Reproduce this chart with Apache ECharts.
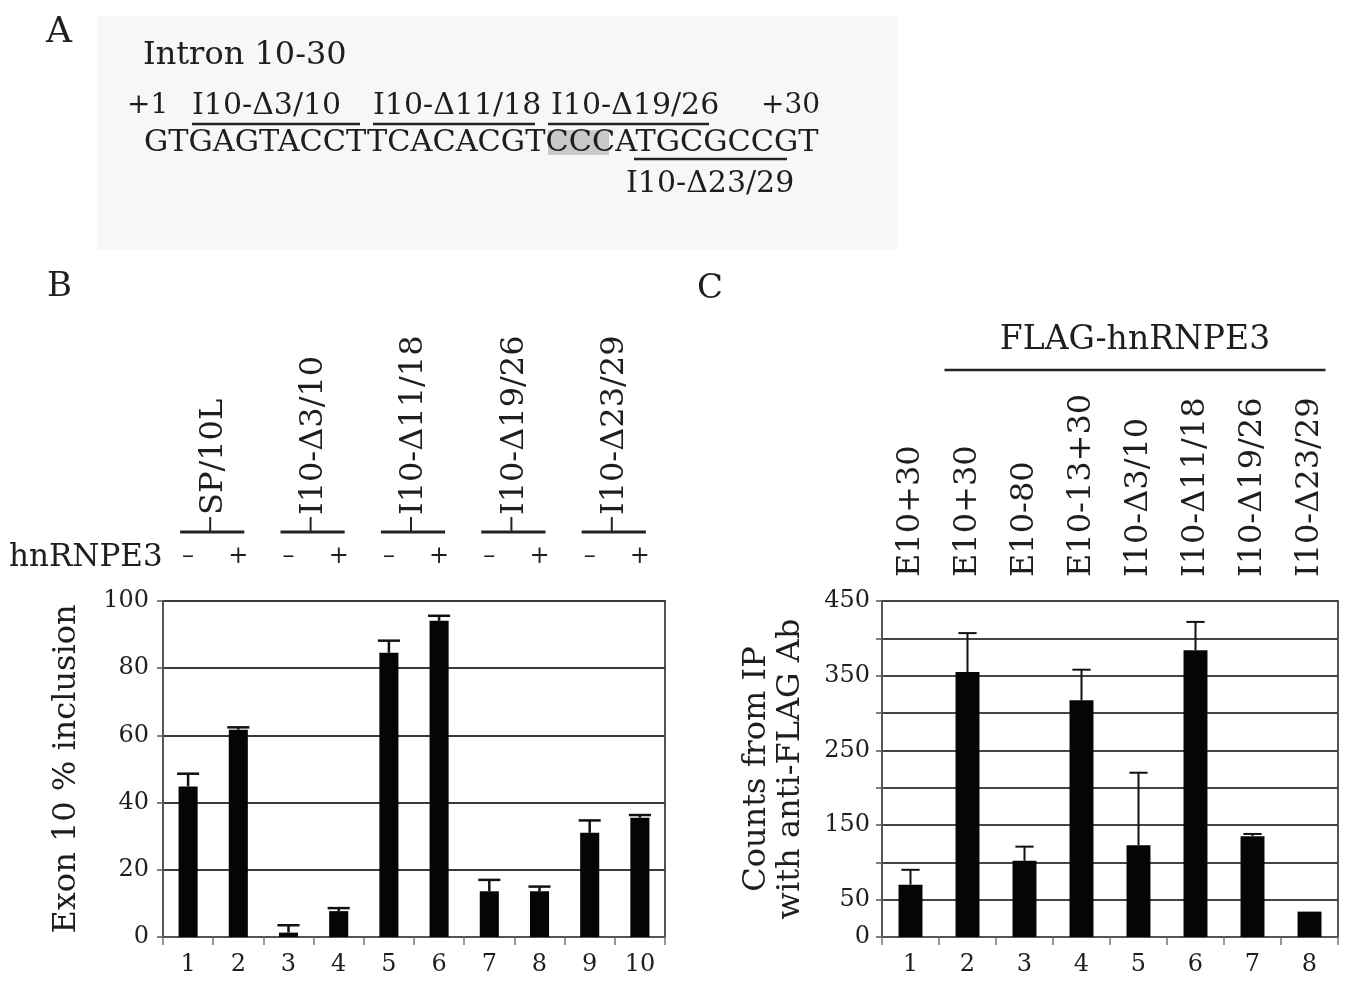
<!DOCTYPE html>
<html>
<head>
<meta charset="utf-8">
<script src="https://cdn.jsdelivr.net/npm/echarts@6/dist/echarts.min.js"></script>
<style>
  html, body { margin: 0; background: #fff; }
  #chart { width: 1355px; height: 981px; }
</style>
</head>
<body>
<div id="chart"></div>
<script>
// ---- data ----
const lanesB = ['1', '2', '3', '4', '5', '6', '7', '8', '9', '10']
const signsB = ['–', '+', '–', '+', '–', '+', '–', '+', '–', '+']
const constructsB = ['SP/10L', 'I10-Δ3/10', 'I10-Δ11/18', 'I10-Δ19/26', 'I10-Δ23/29']
const inclusion = [44.8, 61.7, 1.3, 7.7, 84.6, 94.1, 13.6, 13.6, 31.0, 35.5]
const inclusionErr = [3.8, 0.7, 2.2, 0.9, 3.6, 1.5, 3.4, 1.4, 3.7, 0.8]

const lanesC = ['1', '2', '3', '4', '5', '6', '7', '8']
const constructsC = ['E10+30', 'E10+30', 'E10-80', 'E10-13+30', 'I10-Δ3/10', 'I10-Δ11/18', 'I10-Δ19/26', 'I10-Δ23/29']
const counts = [70, 355, 102, 317, 123, 384, 135, 34]
const countsErr = [20, 52, 19, 41, 97, 38, 3, 0]
const yLabelsC = [0, 50, 150, 250, 350, 450]

const sequence = 'GTGAGTACCTTCACACGTCCCATGCGCCGT'

const FONT = '"DejaVu Serif", serif'
const INK = '#1e1e1e'

const chart = echarts.init(document.getElementById('chart'))

// error bar drawn from bar top up to value + err, with a cap
const errorBars = (capRatio, lw) => (params, api) => {
  const i = api.value(0)
  const v = api.value(1)
  const e = api.value(2)
  if (!e) return null
  const base = api.coord([i, v])
  const top = api.coord([i, v + e])
  const half = api.size([1, 0])[0] * capRatio / 2
  const style = { stroke: '#111', lineWidth: lw }
  return {
    type: 'group',
    children: [
      { type: 'line', shape: { x1: base[0], y1: base[1], x2: top[0], y2: top[1] }, style },
      { type: 'line', shape: { x1: top[0] - half, y1: top[1], x2: top[0] + half, y2: top[1] }, style }
    ]
  }
}

const txt = (text, x, y, size, extra) => ({
  type: 'text', x, y, silent: true,
  style: Object.assign({
    text, fontSize: size, fontFamily: FONT, fill: INK,
    align: 'left', verticalAlign: 'middle', textAlign: 'left', textVerticalAlign: 'middle'
  }, extra || {})
})

const bottomAxis = (gridIndex, data) => ({
  type: 'category', gridIndex, data, position: 'bottom',
  axisLine: { lineStyle: { color: '#555', width: 2 } },
  axisTick: { show: true, length: 8, lineStyle: { color: '#777', width: 1.5 } },
  axisLabel: { margin: 16, fontSize: 24, fontFamily: FONT, color: INK }
})

const topLabelAxis = (gridIndex, data, margin, rotate, size) => ({
  type: 'category', gridIndex, data, position: 'top',
  axisLine: { show: false }, axisTick: { show: false }, splitLine: { show: false },
  axisLabel: { margin, rotate, fontSize: size, fontFamily: FONT, color: INK, interval: 0 }
})

chart.setOption({
  animation: false,
  backgroundColor: '#fff',
  grid: [
    { left: 163, top: 601, width: 502, height: 336, show: true, borderColor: '#555', borderWidth: 2, outerBoundsMode: 'none' },
    { left: 882, top: 601, width: 456, height: 336, show: true, borderColor: '#555', borderWidth: 2, outerBoundsMode: 'none' }
  ],
  xAxis: [
    bottomAxis(0, lanesB),
    topLabelAxis(0, signsB, 32, 0, 24),
    topLabelAxis(0, constructsB, 86, -90, 32),
    bottomAxis(1, lanesC),
    topLabelAxis(1, constructsC, 24, -90, 32)
  ],
  yAxis: [
    {
      type: 'value', gridIndex: 0, min: 0, max: 100, interval: 20,
      name: 'Exon 10 % inclusion', nameLocation: 'middle', nameGap: 80, nameRotate: 90,
      nameTextStyle: { fontSize: 32, fontFamily: FONT, color: INK },
      axisLine: { show: true, lineStyle: { color: '#555', width: 2 } },
      axisTick: { show: true, length: 6, lineStyle: { color: '#555', width: 1.5 } },
      axisLabel: { margin: 14, fontSize: 24, fontFamily: FONT, color: INK },
      splitLine: { lineStyle: { color: '#3a3a3a', width: 2.2 } }
    },
    {
      type: 'value', gridIndex: 1, min: 0, max: 450, interval: 50,
      name: 'Counts from IP\nwith anti-FLAG Ab', nameLocation: 'middle', nameGap: 74, nameRotate: 90,
      nameTextStyle: { fontSize: 32, fontFamily: FONT, color: INK, lineHeight: 34 },
      axisLine: { show: true, lineStyle: { color: '#555', width: 2 } },
      axisTick: { show: true, length: 6, lineStyle: { color: '#555', width: 1.5 } },
      axisLabel: {
        margin: 12, fontSize: 24, fontFamily: FONT, color: INK,
        formatter: v => (yLabelsC.includes(v) ? String(v) : '')
      },
      splitLine: { lineStyle: { color: '#444', width: 1.8 } }
    }
  ],
  series: [
    {
      type: 'bar', xAxisIndex: 0, yAxisIndex: 0, data: inclusion,
      barWidth: '38%', itemStyle: { color: '#050505' }
    },
    {
      type: 'custom', xAxisIndex: 0, yAxisIndex: 0, z: 5,
      renderItem: errorBars(0.44, 2.5),
      encode: { x: 0, y: 1 },
      data: inclusion.map((v, i) => [i, v, inclusionErr[i]])
    },
    {
      type: 'bar', xAxisIndex: 3, yAxisIndex: 1, data: counts,
      barWidth: '42%', itemStyle: { color: '#050505' }
    },
    {
      type: 'custom', xAxisIndex: 3, yAxisIndex: 1, z: 5,
      renderItem: errorBars(0.32, 2),
      encode: { x: 0, y: 1 },
      data: counts.map((v, i) => [i, v, countsErr[i]])
    }
  ]
})

// ---- decorations: panel A, panel letters, brackets ----
const g = []

// panel A
g.push({ type: 'rect', z: -10, silent: true, shape: { x: 97, y: 16, width: 800, height: 234 }, style: { fill: '#f7f7f7' } })
g.push(txt('A', 46, 33, 36))
g.push(txt('Intron 10-30', 143, 56, 32))
g.push({ type: 'rect', silent: true, shape: { x: 548, y: 130, width: 61, height: 25 }, style: { fill: '#c9c9c9' } })
g.push(txt(sequence, 144, 143, 30.4))
g.push(txt('+1', 127, 106, 28))
g.push(txt('I10-Δ3/10', 192, 106, 30))
g.push(txt('I10-Δ11/18', 373, 106, 30))
g.push(txt('I10-Δ19/26', 551, 106, 30))
g.push(txt('+30', 761, 106, 28))
g.push(txt('I10-Δ23/29', 626, 184, 30))
const uline = (x1, x2, y) => ({ type: 'line', silent: true, shape: { x1, y1: y, x2, y2: y }, style: { stroke: '#222', lineWidth: 2.5 } })
g.push(uline(192, 360, 124), uline(373, 535, 124), uline(548, 709, 124), uline(634, 787, 159))

// panel letters
g.push(txt('B', 47, 287, 34))
g.push(txt('C', 697, 289, 34))
g.push(txt('hnRNPE3', 9, 558, 31))

// pair brackets above panel B
constructsB.forEach((_, p) => {
  const a = chart.convertToPixel({ xAxisIndex: 0, yAxisIndex: 0 }, [2 * p, 100])
  const b = chart.convertToPixel({ xAxisIndex: 0, yAxisIndex: 0 }, [2 * p + 1, 100])
  const y = a[1] - 69
  const mid = (a[0] + b[0]) / 2 - 3
  g.push({ type: 'line', silent: true, shape: { x1: a[0] - 8, y1: y, x2: b[0] + 6, y2: y }, style: { stroke: '#222', lineWidth: 3 } })
  g.push({ type: 'line', silent: true, shape: { x1: mid, y1: y - 15, x2: mid, y2: y }, style: { stroke: '#222', lineWidth: 2 } })
})

// FLAG-hnRNPE3 bracket over lanes 2-8 of panel C
const f1 = chart.convertToPixel({ xAxisIndex: 3, yAxisIndex: 1 }, [1, 450])
const f2 = chart.convertToPixel({ xAxisIndex: 3, yAxisIndex: 1 }, [lanesC.length - 1, 450])
g.push({ type: 'line', silent: true, shape: { x1: f1[0] - 23, y1: 370, x2: f2[0] + 16, y2: 370 }, style: { stroke: '#222', lineWidth: 2.5 } })
g.push(txt('FLAG-hnRNPE3', (f1[0] - 23 + f2[0] + 16) / 2, 340, 33, { align: 'center', textAlign: 'center' }))

chart.setOption({ graphic: g })
</script>
</body>
</html>
